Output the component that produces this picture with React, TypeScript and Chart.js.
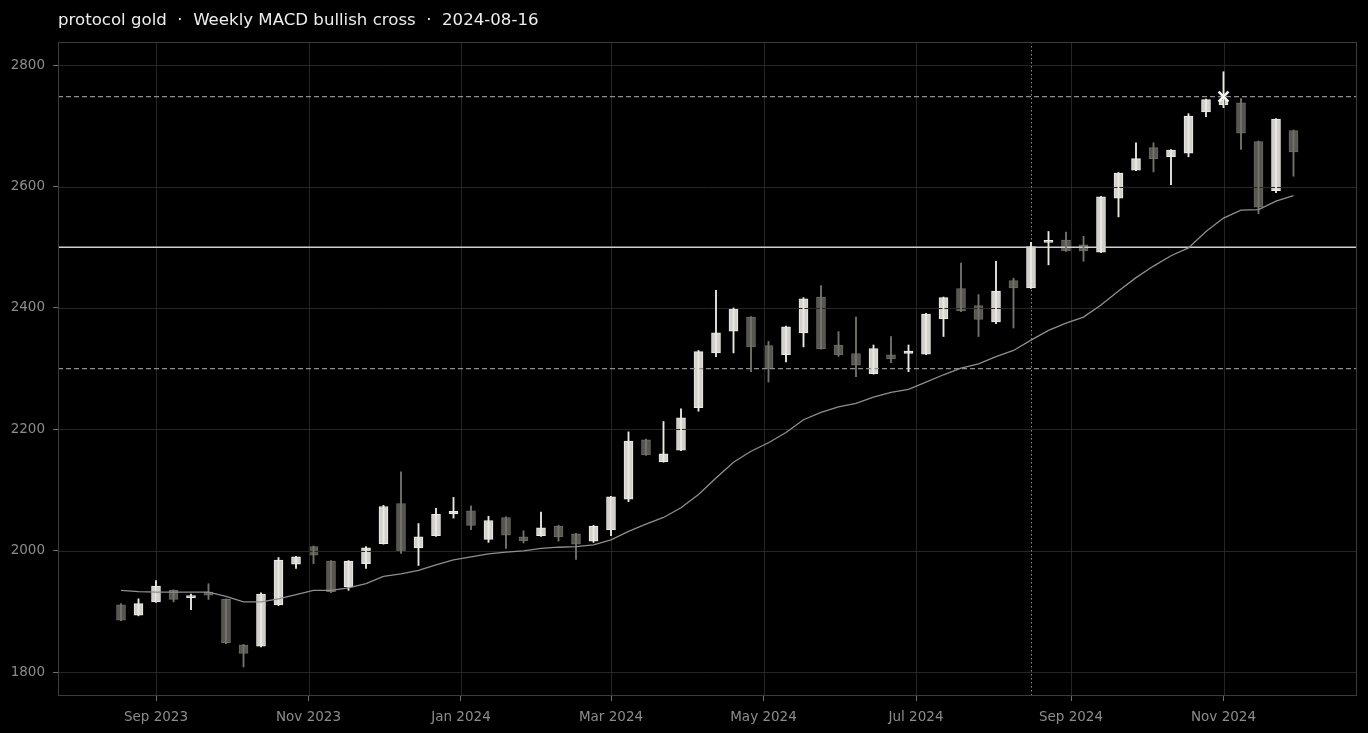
import React, { useEffect, useRef } from "react";
import { Chart, registerables } from "chart.js";

Chart.register(...registerables);

const TITLE = "protocol gold  ·  Weekly MACD bullish cross  ·  2024-08-16";

// weekly candles (Friday closes)
const weeks = [
  "2023-08-18", "2023-08-25", "2023-09-01", "2023-09-08", "2023-09-15", "2023-09-22", "2023-09-29",
  "2023-10-06", "2023-10-13", "2023-10-20", "2023-10-27", "2023-11-03", "2023-11-10", "2023-11-17",
  "2023-11-24", "2023-12-01", "2023-12-08", "2023-12-15", "2023-12-22", "2023-12-29", "2024-01-05",
  "2024-01-12", "2024-01-19", "2024-01-26", "2024-02-02", "2024-02-09", "2024-02-16", "2024-02-23",
  "2024-03-01", "2024-03-08", "2024-03-15", "2024-03-22", "2024-03-29", "2024-04-05", "2024-04-12",
  "2024-04-19", "2024-04-26", "2024-05-03", "2024-05-10", "2024-05-17", "2024-05-24", "2024-05-31",
  "2024-06-07", "2024-06-14", "2024-06-21", "2024-06-28", "2024-07-05", "2024-07-12", "2024-07-19",
  "2024-07-26", "2024-08-02", "2024-08-09", "2024-08-16", "2024-08-23", "2024-08-30", "2024-09-06",
  "2024-09-13", "2024-09-20", "2024-09-27", "2024-10-04", "2024-10-11", "2024-10-18", "2024-10-25",
  "2024-11-01", "2024-11-08", "2024-11-15", "2024-11-22", "2024-11-29",
];

const opens = [
  1911, 1894, 1916, 1935, 1923, 1932, 1920, 1845, 1843, 1911, 1978, 2007, 1983, 1941, 1979, 2012, 2078,
  2005, 2025, 2061, 2066, 2019, 2055, 2023, 2025, 2041, 2028, 2016, 2035, 2085, 2183, 2147, 2166, 2236,
  2326, 2362, 2385, 2338, 2323, 2359, 2418, 2339, 2325, 2292, 2323, 2325, 2324, 2382, 2432, 2404, 2377,
  2445, 2433, 2508, 2512, 2504, 2492, 2581, 2627, 2664, 2649, 2655, 2723, 2735, 2738, 2674, 2593, 2692,
];
const highs = [
  1913, 1921, 1951, 1936, 1929, 1946, 1921, 1846, 1931, 1989, 1991, 2008, 1984, 1984, 2007, 2075, 2130,
  2045, 2070, 2088, 2074, 2057, 2056, 2033, 2064, 2042, 2029, 2042, 2090, 2196, 2184, 2213, 2234, 2330,
  2429, 2400, 2386, 2345, 2370, 2417, 2437, 2361, 2385, 2339, 2353, 2339, 2391, 2418, 2474, 2422, 2477,
  2449, 2508, 2526, 2525, 2518, 2584, 2623, 2672, 2672, 2661, 2720, 2744, 2789, 2745, 2675, 2712, 2693,
];
const lows = [
  1885, 1893, 1915, 1916, 1903, 1920, 1847, 1809, 1842, 1910, 1971, 1979, 1931, 1935, 1971, 2011, 1996,
  1976, 2024, 2054, 2035, 2014, 2004, 2013, 2024, 2016, 1986, 2014, 2025, 2081, 2157, 2146, 2165, 2230,
  2320, 2326, 2295, 2278, 2311, 2336, 2332, 2320, 2287, 2291, 2310, 2295, 2323, 2353, 2394, 2353, 2374,
  2367, 2432, 2471, 2493, 2477, 2491, 2550, 2626, 2624, 2603, 2649, 2715, 2730, 2661, 2555, 2590, 2617,
];
const closes = [
  1886, 1913, 1942, 1920, 1926, 1927, 1849, 1831, 1929, 1985, 1990, 1993, 1933, 1983, 2005, 2073, 1999,
  2023, 2060, 2065, 2042, 2050, 2026, 2017, 2038, 2023, 2011, 2041, 2089, 2181, 2158, 2160, 2219, 2328,
  2359, 2399, 2336, 2300, 2369, 2415, 2333, 2323, 2306, 2333, 2316, 2329, 2390, 2417, 2395, 2381, 2428,
  2433, 2501, 2510, 2494, 2494, 2583, 2622, 2646, 2646, 2660, 2716, 2743, 2742, 2688, 2566, 2711, 2657,
];
// moving average
const avg = [
  1935, 1933, 1932, 1932, 1932, 1932, 1925, 1916, 1916, 1921, 1928, 1935, 1935, 1939, 1946, 1958, 1962,
  1968, 1977, 1985, 1990, 1995, 1998, 2000, 2004, 2006, 2007, 2010, 2018, 2032, 2044, 2055, 2071, 2093,
  2120, 2146, 2164, 2178, 2195, 2216, 2228, 2237, 2243, 2253, 2261, 2266, 2278, 2290, 2301, 2308, 2320,
  2330, 2347, 2363, 2375, 2385, 2405, 2428, 2450, 2469, 2486, 2499, 2526, 2548, 2561, 2562, 2576, 2585,
];

const levelValues = [2748, 2500, 2300];
const signalDate = "2024-08-16";
const crossDates = ["2024-11-01"];
const crossValues = [2748];

const yTicks = [1800, 2000, 2200, 2400, 2600, 2800];
const xTickDates = [
  "2023-09-01", "2023-11-01", "2024-01-01", "2024-03-01",
  "2024-05-01", "2024-07-01", "2024-09-01", "2024-11-01",
];
const xTickLabels = [
  "Sep 2023", "Nov 2023", "Jan 2024", "Mar 2024",
  "May 2024", "Jul 2024", "Sep 2024", "Nov 2024",
];

const DAY = 86400000;
const toMs = (d: string) => Date.parse(d + "T00:00:00Z");

const UP_FILL = "#d3d1cb";
const UP_EDGE = "#ecebe6";
const DOWN_FILL = "#575650";
const DOWN_EDGE = "#6b6a64";
const GRID = "#262626";
const TICK_TEXT = "#8c8c8c";

const overlayPlugin = {
  id: "overlay",
  beforeDraw(chart: any) {
    const { ctx, width, height } = chart;
    ctx.save();
    ctx.fillStyle = "#000";
    ctx.fillRect(0, 0, width, height);
    ctx.restore();
  },
  afterDatasetDraw(chart: any, args: any) {
    if (args.index !== 0) return;
    const { ctx, chartArea: a, scales } = chart;
    const xs = scales.x;
    const ys = scales.y;
    ctx.save();
    ctx.beginPath();
    ctx.rect(a.left, a.top, a.right - a.left, a.bottom - a.top);
    ctx.clip();

    // grid
    ctx.strokeStyle = GRID;
    ctx.lineWidth = 1;
    ctx.beginPath();
    xTickDates.forEach((d) => {
      const px = Math.round(xs.getPixelForValue(toMs(d))) + 0.5;
      ctx.moveTo(px, a.top);
      ctx.lineTo(px, a.bottom);
    });
    yTicks.forEach((v) => {
      const py = Math.round(ys.getPixelForValue(v)) + 0.5;
      ctx.moveTo(a.left, py);
      ctx.lineTo(a.right, py);
    });
    ctx.stroke();

    // reference levels
    levelValues.forEach((v, i) => {
      const py = ys.getPixelForValue(v);
      ctx.beginPath();
      if (i === 1) {
        ctx.setLineDash([]);
        ctx.strokeStyle = "#cfcfcf";
        ctx.lineWidth = 1.5;
      } else {
        ctx.setLineDash([5, 3]);
        ctx.strokeStyle = "#8e8e8e";
        ctx.lineWidth = 1.2;
      }
      ctx.moveTo(a.left, py);
      ctx.lineTo(a.right, py);
      ctx.stroke();
    });

    // signal date
    const sx = Math.round(xs.getPixelForValue(toMs(signalDate))) + 0.5;
    ctx.beginPath();
    ctx.setLineDash([1.5, 2.5]);
    ctx.strokeStyle = "#8a8a8a";
    ctx.lineWidth = 1;
    ctx.moveTo(sx, a.top);
    ctx.lineTo(sx, a.bottom);
    ctx.stroke();
    ctx.restore();
  },
  afterDraw(chart: any) {
    const { ctx, chartArea: a } = chart;
    ctx.save();
    ctx.strokeStyle = "#3c3c3c";
    ctx.lineWidth = 1;
    ctx.strokeRect(Math.round(a.left) + 0.5, Math.round(a.top) + 0.5,
      Math.round(a.right - a.left) - 1, Math.round(a.bottom - a.top) - 1);
    ctx.fillStyle = "#ededed";
    ctx.font = "16.6px 'DejaVu Sans'";
    ctx.textBaseline = "middle";
    ctx.textAlign = "left";
    ctx.fillText(TITLE, a.left, 20.5);
    ctx.restore();
  },
};

const App: React.FC = () => {
  const canvasRef = useRef<HTMLCanvasElement | null>(null);
  const chartRef = useRef<Chart | null>(null);

  useEffect(() => {
    document.body.style.margin = "0";
    document.body.style.background = "#000";
    if (!canvasRef.current) return;
    if (chartRef.current) chartRef.current.destroy();

    Chart.defaults.font.family = "'DejaVu Sans', sans-serif";

    const xs = weeks.map(toMs);
    const isUp = (i: number) => closes[i] >= opens[i];

    chartRef.current = new Chart(canvasRef.current, {
      type: "bar",
      data: {
        datasets: [
          {
            type: "bar",
            data: weeks.map((_, i) => ({ x: xs[i], y: [opens[i], closes[i]] })),
            backgroundColor: weeks.map((_, i) => (isUp(i) ? UP_FILL : DOWN_FILL)),
            borderColor: weeks.map((_, i) => (isUp(i) ? UP_EDGE : DOWN_EDGE)),
            borderWidth: 1,
            borderSkipped: false,
            barThickness: 9,
            minBarLength: 2,
            grouped: false,
            order: 3,
          } as any,
          {
            type: "bar",
            data: weeks.map((_, i) => ({ x: xs[i], y: [lows[i], highs[i]] })),
            backgroundColor: weeks.map((_, i) => (isUp(i) ? "#ebe9e4" : "#74736d")),
            borderWidth: 0,
            barThickness: 1.2,
            grouped: false,
            order: 2,
          } as any,
          {
            type: "line",
            data: weeks.map((_, i) => ({ x: xs[i], y: avg[i] })),
            borderColor: "#8f8f8f",
            borderWidth: 1.3,
            pointRadius: 0,
            tension: 0,
            order: 1,
          } as any,
          {
            type: "line",
            data: crossDates.map((d, i) => ({ x: toMs(d), y: crossValues[i] })),
            showLine: false,
            pointStyle: "crossRot",
            pointRadius: 7,
            pointBorderWidth: 2.5,
            pointBorderColor: "#f4f4f4",
            order: 0,
          } as any,
        ],
      },
      options: {
        animation: false,
        responsive: true,
        maintainAspectRatio: false,
        layout: { padding: { top: 42, right: 11, left: 0, bottom: 0 } },
        plugins: {
          legend: { display: false },
          tooltip: { enabled: false },
          title: { display: false },
        },
        scales: {
          x: {
            type: "linear",
            min: xs[0] - 25.2 * DAY,
            max: xs[xs.length - 1] + 25.4 * DAY,
            offset: false,
            grid: { drawOnChartArea: false, offset: false, tickColor: "#707070", tickLength: 5 },
            border: { display: false },
            ticks: {
              color: TICK_TEXT,
              font: { size: 13.5 },
              padding: 8,
              maxRotation: 0,
              autoSkip: false,
              callback: (_v: any, i: number) => xTickLabels[i],
            },
            afterBuildTicks: (s: any) => {
              s.ticks = xTickDates.map((d) => ({ value: toMs(d) }));
            },
            afterFit: (s: any) => {
              s.height = 37;
            },
          },
          y: {
            type: "linear",
            min: 1761,
            max: 2838,
            grid: { drawOnChartArea: false, tickColor: "#707070", tickLength: 5 },
            border: { display: false },
            ticks: {
              color: TICK_TEXT,
              font: { size: 13.5 },
              padding: 8,
              autoSkip: false,
              callback: (v: any) => String(v),
            },
            afterBuildTicks: (s: any) => {
              s.ticks = yTicks.map((v) => ({ value: v }));
            },
            afterFit: (s: any) => {
              s.width = 58;
            },
          },
        },
      } as any,
      plugins: [overlayPlugin],
    });

    return () => {
      if (chartRef.current) {
        chartRef.current.destroy();
        chartRef.current = null;
      }
    };
  }, []);

  return (
    <div style={{ width: 1368, height: 733, position: "relative", background: "#000" }}>
      <canvas ref={canvasRef} />
    </div>
  );
};

export default App;
